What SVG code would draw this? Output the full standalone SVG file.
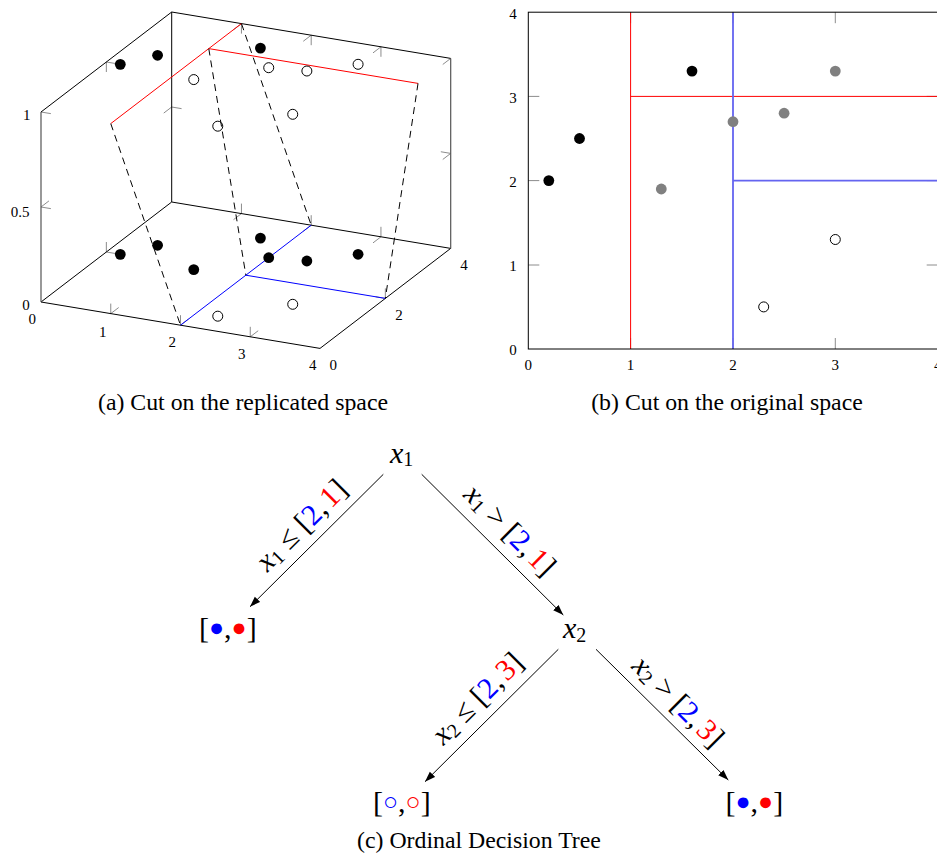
<svg xmlns="http://www.w3.org/2000/svg" width="937" height="858" viewBox="0 0 937 858">
<style>
.ax{stroke:#000;stroke-width:1;fill:none}
.axg{stroke:#555;stroke-width:1.2;fill:none}
.tk{stroke:#8c8c8c;stroke-width:1;fill:none}
.tl{font-family:"Liberation Serif",serif;font-size:15px;fill:#000;text-anchor:middle}
.cap{font-family:"Liberation Serif",serif;font-size:23.8px;fill:#000;text-anchor:middle}
.rl{stroke:#f00;stroke-width:1;fill:none}
.bl{stroke:#00f;stroke-width:1;fill:none}
.bl2{stroke:#6464f0;stroke-width:1.8;fill:none}
.dash{stroke:#000;stroke-width:1;stroke-dasharray:7 5;fill:none}
.pf{fill:#000}
.pg{fill:#808080}
.po{fill:none;stroke:#000;stroke-width:1}
.edge{stroke:#000;stroke-width:1;fill:none;marker-end:url(#arr)}
.m{font-family:"Liberation Serif","DejaVu Serif",serif;font-size:30px;fill:#000}
.mi{font-style:italic}
.sub{font-size:20px;font-style:normal}
.dot{font-size:25px}
.cb{fill:#00f}
.cr{fill:#f00}
</style>
<defs>
<marker id="arr" markerUnits="userSpaceOnUse" markerWidth="11" markerHeight="8" refX="10.5" refY="3.75" orient="auto">
<path d="M0,0 L10.5,3.75 L0,7.5 Z" fill="#000"/>
</marker>
</defs>

<g id="plot-a">
<path class="tk" d="M110.75,313.6 l0,-10 M110.75,313.6 l7.94,-6.08 M180.5,325.2 l0,-10 M180.5,325.2 l7.94,-6.08 M250.25,336.8 l0,-10 M250.25,336.8 l7.94,-6.08 M241.45,213.6 l0,-10 M241.45,213.6 l-7.94,6.08 M311.2,225.2 l0,-10 M311.2,225.2 l-7.94,6.08 M380.95,236.8 l0,-10 M380.95,236.8 l-7.94,6.08 M241.45,23.6 l0,10 M241.45,23.6 l-7.94,6.08 M311.2,35.2 l0,10 M311.2,35.2 l-7.94,6.08 M380.95,46.8 l0,10 M380.95,46.8 l-7.94,6.08 M106.35,252 l0,-10 M106.35,252 l9.86,1.64 M106.35,62 l0,10 M106.35,62 l9.86,1.64 M385.35,298.4 l0,-10 M385.35,298.4 l-9.86,-1.64 M41,207 l9.86,1.64 M41,207 l7.94,-6.08 M41,112 l9.86,1.64 M171.7,107 l9.86,1.64 M171.7,107 l-7.94,6.08 M450.7,153.4 l-9.86,-1.64 M450.7,153.4 l-7.94,6.08 M450.7,58.4 l-7.94,6.08"/>
<path class="ax" d="M41,112 L171.7,12 L450.7,58.4 M171.7,12 L171.7,202 L450.7,248.4 M41,302 L320,348.4 L450.7,248.4 M41,302 L171.7,202"/>
<path class="axg" d="M41,302 L41,112 M450.7,58.4 L450.7,248.4"/>
<path class="rl" d="M110.75,123.6 L241.45,23.6 M208.78,48.6 L418.03,83.4"/>
<path class="bl" d="M180.5,325.2 L311.2,225.2 M245.85,275.2 L385.35,298.4"/>
<path class="dash" d="M110.75,123.6 L180.5,325.2 M208.78,48.6 L245.85,275.2 M241.45,23.6 L311.2,225.2 M418.03,83.4 L385.35,298.4"/>
<g class="pf">
<circle cx="120.3" cy="254.32" r="5.4"/><circle cx="157.57" cy="245.3" r="5.4"/><circle cx="260.43" cy="238.06" r="5.4"/>
<circle cx="193.76" cy="269.58" r="5.4"/><circle cx="268.72" cy="257.7" r="5.4"/><circle cx="306.87" cy="261" r="5.4"/><circle cx="358.08" cy="254.3" r="5.4"/>
<circle cx="120.3" cy="64.32" r="5.4"/><circle cx="157.57" cy="55.3" r="5.4"/><circle cx="260.43" cy="48.06" r="5.4"/>
</g>
<g class="po">
<circle cx="217.77" cy="316.18" r="5"/><circle cx="292.73" cy="304.3" r="5"/>
<circle cx="193.76" cy="79.58" r="5"/><circle cx="268.72" cy="67.7" r="5"/><circle cx="306.87" cy="71" r="5"/><circle cx="358.08" cy="64.3" r="5"/>
<circle cx="217.77" cy="126.18" r="5"/><circle cx="292.73" cy="114.3" r="5"/>
</g>
<text class="tl" x="26.7" y="120">1</text>
<text class="tl" x="20" y="216.7">0.5</text>
<text class="tl" x="26" y="310">0</text>
<text class="tl" x="32.3" y="323.5">0</text>
<text class="tl" x="102.7" y="336.5">1</text>
<text class="tl" x="172.3" y="346.5">2</text>
<text class="tl" x="241.7" y="358.5">3</text>
<text class="tl" x="312.7" y="370">4</text>
<text class="tl" x="333.3" y="370">0</text>
<text class="tl" x="399" y="320">2</text>
<text class="tl" x="464" y="270">4</text>
<text class="cap" x="243" y="410">(a) Cut on the replicated space</text>
</g>

<g id="plot-b">
<path class="tk" d="M528.3,265 h11 M528.3,180.6 h11 M528.3,96.4 h11 M937.7,265 h-11 M937.7,180.6 h-11 M937.7,96.4 h-11 M630.6,349 v-11 M733,349 v-11 M835.3,349 v-11 M630.6,12.2 v11 M733,12.2 v11 M835.3,12.2 v11"/>
<path class="rl" d="M630.6,12.2 V349 M630.6,96.4 H937"/>
<path class="bl2" d="M733,12.2 V349 M733,180.6 H937"/>
<rect class="ax" x="528.3" y="12.2" width="409.4" height="336.8"/>
<g class="pf">
<circle cx="548.8" cy="180.6" r="5.4"/><circle cx="579.5" cy="138.5" r="5.4"/><circle cx="692" cy="71.1" r="5.4"/>
</g>
<g class="pg">
<circle cx="661.3" cy="189" r="5.4"/><circle cx="733" cy="121.7" r="5.4"/><circle cx="784.1" cy="113.2" r="5.4"/><circle cx="835.3" cy="71.1" r="5.4"/>
</g>
<g class="po">
<circle cx="763.7" cy="306.9" r="5"/><circle cx="835.3" cy="239.5" r="5"/>
</g>
<text class="tl" x="528.3" y="370">0</text>
<text class="tl" x="630.6" y="370">1</text>
<text class="tl" x="733" y="370">2</text>
<text class="tl" x="835.3" y="370">3</text>
<text class="tl" x="937.7" y="370">4</text>
<text class="tl" x="513" y="355">0</text>
<text class="tl" x="513" y="271">1</text>
<text class="tl" x="513" y="186.5">2</text>
<text class="tl" x="513" y="102.5">3</text>
<text class="tl" x="513" y="18.5">4</text>
<text class="cap" x="727" y="410">(b) Cut on the original space</text>
</g>

<g id="tree">
<g id="connectors">
<path class="edge" d="M383.3,474.3 L250,606.7"/>
<path class="edge" d="M421.7,474.3 L563.3,615"/>
<path class="edge" d="M558.3,649.3 L425,781.7"/>
<path class="edge" d="M596,649.3 L728.3,780"/>
<text class="m" text-anchor="middle" transform="translate(308.2,532) rotate(-45)"><tspan class="mi">x</tspan><tspan class="sub" dy="3">1</tspan><tspan dy="-3"> ≤ [</tspan><tspan class="cb">2</tspan>,<tspan class="cr" dx="3">1</tspan>]</text>
<text class="m" text-anchor="middle" transform="translate(503.1,536.9) rotate(45)"><tspan class="mi">x</tspan><tspan class="sub" dy="3">1</tspan><tspan dy="-3"> &gt; [</tspan><tspan class="cb">2</tspan>,<tspan class="cr" dx="3">1</tspan>]</text>
<text class="m" text-anchor="middle" transform="translate(484.2,705.2) rotate(-45)"><tspan class="mi">x</tspan><tspan class="sub" dy="3">2</tspan><tspan dy="-3"> ≤ [</tspan><tspan class="cb">2</tspan>,<tspan class="cr" dx="3">3</tspan>]</text>
<text class="m" text-anchor="middle" transform="translate(671.4,708.3) rotate(45)"><tspan class="mi">x</tspan><tspan class="sub" dy="3">2</tspan><tspan dy="-3"> &gt; [</tspan><tspan class="cb">2</tspan>,<tspan class="cr" dx="3">3</tspan>]</text>
</g>
<g id="node-x1"><text class="m" x="390" y="463"><tspan class="mi">x</tspan><tspan class="sub" dy="3">1</tspan></text></g>
<g id="node-x2"><text class="m" x="563" y="638"><tspan class="mi">x</tspan><tspan class="sub" dy="3.5">2</tspan></text></g>
<g id="leaf-1"><text class="m" x="199" y="638">[<tspan class="cb dot" dy="-2.5">●</tspan><tspan dy="2.5">,</tspan><tspan class="cr dot" dy="-2.5">●</tspan><tspan dy="2.5">]</tspan></text></g>
<g id="leaf-2"><text class="m" x="373" y="812">[<tspan class="cb dot" dy="-2.5">○</tspan><tspan dy="2.5">,</tspan><tspan class="cr dot" dy="-2.5">○</tspan><tspan dy="2.5">]</tspan></text></g>
<g id="leaf-3"><text class="m" x="725.5" y="812">[<tspan class="cb dot" dy="-2.5">●</tspan><tspan dy="2.5">,</tspan><tspan class="cr dot" dy="-2.5">●</tspan><tspan dy="2.5">]</tspan></text></g>
<text class="cap" x="479" y="848">(c) Ordinal Decision Tree</text>
</g>
</svg>
